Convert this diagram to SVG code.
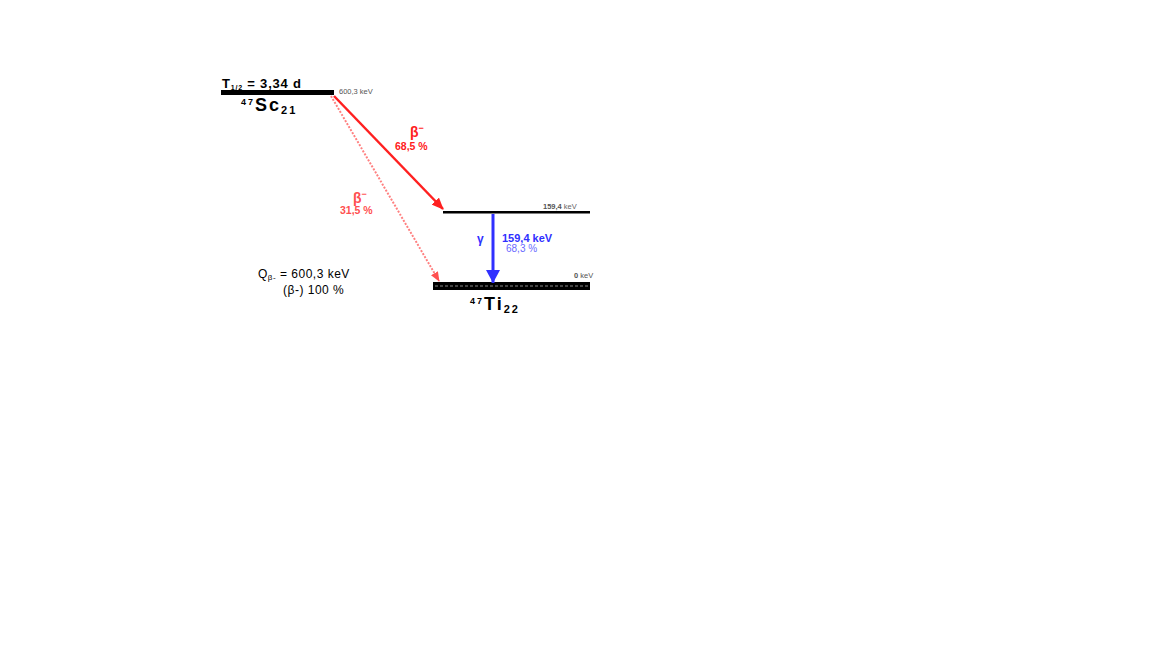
<svg xmlns="http://www.w3.org/2000/svg" width="1152" height="648" viewBox="0 0 1152 648">
<style>
text{font-family:"Liberation Sans",Arial,sans-serif}
.b{font-weight:bold}
.sm{font-size:7.5px;fill:#555}
.red{fill:#ff2020}
.blue{fill:#3030ff}
.nuc{font-weight:bold;font-size:18px;letter-spacing:2px}
</style>
<defs>
<marker id="ar" markerWidth="12" markerHeight="10" refX="11" refY="5" orient="auto" markerUnits="userSpaceOnUse"><path d="M0,0 L12,5 L0,10 Z" fill="#ff2020"/></marker>
<marker id="arl" markerWidth="10" markerHeight="8" refX="9" refY="4" orient="auto" markerUnits="userSpaceOnUse"><path d="M0,0 L10,4 L0,8 Z" fill="#ff5050"/></marker>
<marker id="ab" markerWidth="14" markerHeight="14" refX="13" refY="7" orient="auto" markerUnits="userSpaceOnUse"><path d="M0,0 L13,7 L0,14 Z" fill="#3030ff"/></marker>
</defs>
<rect width="1152" height="648" fill="#fff"/>
<g id="sc47">
<rect x="221" y="90" width="113" height="5" fill="#000"/>
<text x="222" y="88" class="b" font-size="13" letter-spacing="0.8">T<tspan font-size="7" dy="2">1/2</tspan><tspan dy="-2"> = 3,34 d</tspan></text>
<text x="339" y="94" class="sm">600,3 keV</text>
<text x="241" y="111" class="nuc"><tspan font-size="9" dy="-6">47</tspan><tspan dy="6">Sc</tspan><tspan font-size="11" dy="3">21</tspan></text>
</g>
<g id="level159">
<rect x="443" y="211" width="147" height="2.5" fill="#000"/>
<text x="543" y="209" class="sm" font-weight="bold" fill="#333">159,4 <tspan font-weight="normal" fill="#666">keV</tspan></text>
</g>
<g id="ti47">
<rect x="433" y="282" width="157" height="8" fill="#000"/>
<line x1="435" y1="286" x2="588" y2="286" stroke="#888" stroke-width="1" stroke-dasharray="3,2"/>
<text x="574" y="278" class="sm" fill="#333"><tspan font-weight="bold">0</tspan> keV</text>
<text x="470" y="310" class="nuc"><tspan font-size="9" dy="-6">47</tspan><tspan dy="6">Ti</tspan><tspan font-size="11" dy="3">22</tspan></text>
</g>
<g id="qinfo">
<text x="258" y="278" font-size="12" letter-spacing="0.5">Q<tspan font-size="8" dy="2">β-</tspan><tspan dy="-2"> = 600,3 keV</tspan></text>
<text x="283" y="294" font-size="12" letter-spacing="0.5">(β-) 100 %</text>
</g>
<g id="connectors">
<line x1="334" y1="96" x2="443" y2="209" stroke="#ff2020" stroke-width="2.5" marker-end="url(#ar)"/>
<line x1="331" y1="96" x2="439" y2="281" stroke="#ff8080" stroke-width="2" stroke-dasharray="2,1.5" marker-end="url(#arl)"/>
<line x1="493" y1="214" x2="493" y2="283" stroke="#3030ff" stroke-width="3" marker-end="url(#ab)"/>
<text x="410" y="137" class="b red" font-size="14">β<tspan font-size="9" dy="-6">−</tspan></text>
<text x="395" y="150" class="b red" font-size="10.5">68,5 %</text>
<text x="353" y="203" class="b" fill="#ff5050" font-size="14">β<tspan font-size="9" dy="-6">−</tspan></text>
<text x="340" y="214" class="b" fill="#ff5050" font-size="10.5">31,5 %</text>
<text x="477" y="243" class="b blue" font-size="12">γ</text>
<text x="502" y="242" class="b blue" font-size="11">159,4 keV</text>
<text x="506" y="252" fill="#6a6aff" font-size="10">68,3 %</text>
</g>
</svg>
